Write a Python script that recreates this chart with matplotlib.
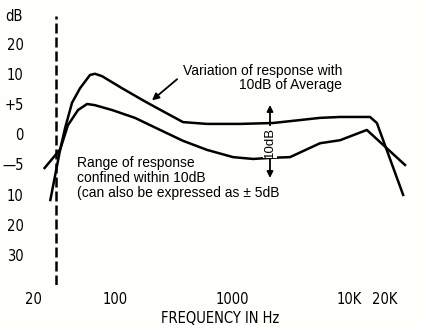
import numpy as np
import matplotlib.pyplot as plt

# Frequency response of a speaker, with a dB axis that is stretched around 0 dB

# upper curve (variation of response)
upper_hz = [28, 34, 37.4, 42.9, 50.2, 61.1, 67.4, 77.5, 115, 170, 220,
            381, 611, 1170, 2240, 5650, 8380, 15100, 17300, 29000]
upper_db = [-11.8, -2.5, 1.0, 5.2, 7.6, 9.8, 10.0, 9.6, 7.6, 5.7, 4.5,
            2.0, 1.7, 1.7, 1.85, 2.7, 2.85, 2.85, 1.85, -10.1]

# lower curve (range of response)
lower_hz = [25, 34, 39.6, 48.3, 57.7, 67.4, 94.3, 148, 243, 381, 611, 1020,
            1510, 2240, 3130, 5650, 8380, 14200, 30100]
lower_db = [-5.6, -2.5, 1.5, 4.0, 5.0, 4.8, 4.0, 2.7, 0.7, -1.1, -2.6, -3.8,
            -4.1, -3.9, -3.8, -1.5, -1.0, 0.7, -5.1]

# low frequency limit marker
cutoff_hz = 31

# axis ticks
x_ticks = [20, 100, 1000, 10000, 20000]
x_labels = ["20", "100", "1000", "10K", "20K"]
y_ticks = [-30, -20, -10, -5, 0, 5, 10, 20]
y_labels = ["30", "20", "10", "\u20145", "0", "+5", "10", "20"]

# the dB scale: each tick level gets the same spacing
lev = [-130] + y_ticks + [120]
pos = [-10] + list(range(len(y_ticks))) + [17]


def fwd(v):
    return np.interp(v, lev, pos)


def inv(v):
    return np.interp(v, pos, lev)


narrow = ["Liberation Sans Narrow", "DejaVu Sans Condensed", "DejaVu Sans"]
body = ["Liberation Sans", "DejaVu Sans"]
bg = "#fefefa"

fig = plt.figure(figsize=(4.25, 3.26), dpi=100)
fig.patch.set_facecolor(bg)
ax = fig.add_axes([0.0588, 0.1252, 0.9176, 0.8245])
ax.set_facecolor(bg)

ax.set_xscale("log")
ax.set_yscale("function", functions=(fwd, inv))
ax.set_xlim(17.0, 36600)
ax.set_ylim(inv(-1.0), inv(7.9))

ax.plot(upper_hz, upper_db, color="black", lw=1.8, solid_joinstyle="round")
ax.plot(lower_hz, lower_db, color="black", lw=1.8, solid_joinstyle="round")
ax.axvline(cutoff_hz, color="black", lw=1.8, dashes=(4, 1.6))

ax.set_xticks(x_ticks)
ax.set_xticklabels(x_labels, family=narrow, fontstretch="condensed", fontsize=10.5)
ax.set_xticks([], minor=True)
ax.set_yticks(y_ticks)
ax.set_yticklabels(y_labels, family=narrow, fontstretch="condensed", fontsize=10.5)
ax.yaxis.set_minor_locator(plt.NullLocator())
ax.tick_params(length=0, pad=1)
ax.tick_params(axis="x", pad=5)
for s in ax.spines.values():
    s.set_visible(False)

ax.set_xlabel("FREQUENCY IN Hz", family=narrow, fontstretch="condensed",
              fontsize=10.5, labelpad=3)
ax.text(-0.005, 1.0, "dB", transform=ax.transAxes, ha="right", va="center",
        family=narrow, fontstretch="condensed", fontsize=10.5)

# annotation for the upper curve
ax.annotate("", xy=(207, 5.6), xytext=(339, 9.1),
            arrowprops=dict(arrowstyle="-|>", color="black", lw=1.3,
                            mutation_scale=10, shrinkA=0, shrinkB=0))
ax.text(10 ** (2 + 227 / 117), inv((255 - 78) / 30.2),
        "Variation of response with\n10dB of Average",
        ha="right", va="center", family=body, fontsize=10, linespacing=1.05)

# annotation for the lower curve
ax.text(10 ** (2 - 38 / 117), inv((255 - 156) / 30.2),
        "Range of response\nconfined within 10dB\n(can also be expressed as \u00b1 5dB",
        ha="left", va="top", family=body, fontsize=10, linespacing=1.1)

# 10 dB span marker
ax.annotate("", xy=(2110, 4.83), xytext=(2110, -7.25),
            arrowprops=dict(arrowstyle="<|-|>", color="black", lw=1.3,
                            mutation_scale=9, shrinkA=0, shrinkB=0))
ax.text(2110, -1.3, "10dB", rotation=90, ha="center", va="center",
        family=body, fontsize=9.5,
        bbox=dict(facecolor=bg, edgecolor="none", pad=0.5))

fig.savefig("out.png", dpi=100, facecolor=fig.get_facecolor())
